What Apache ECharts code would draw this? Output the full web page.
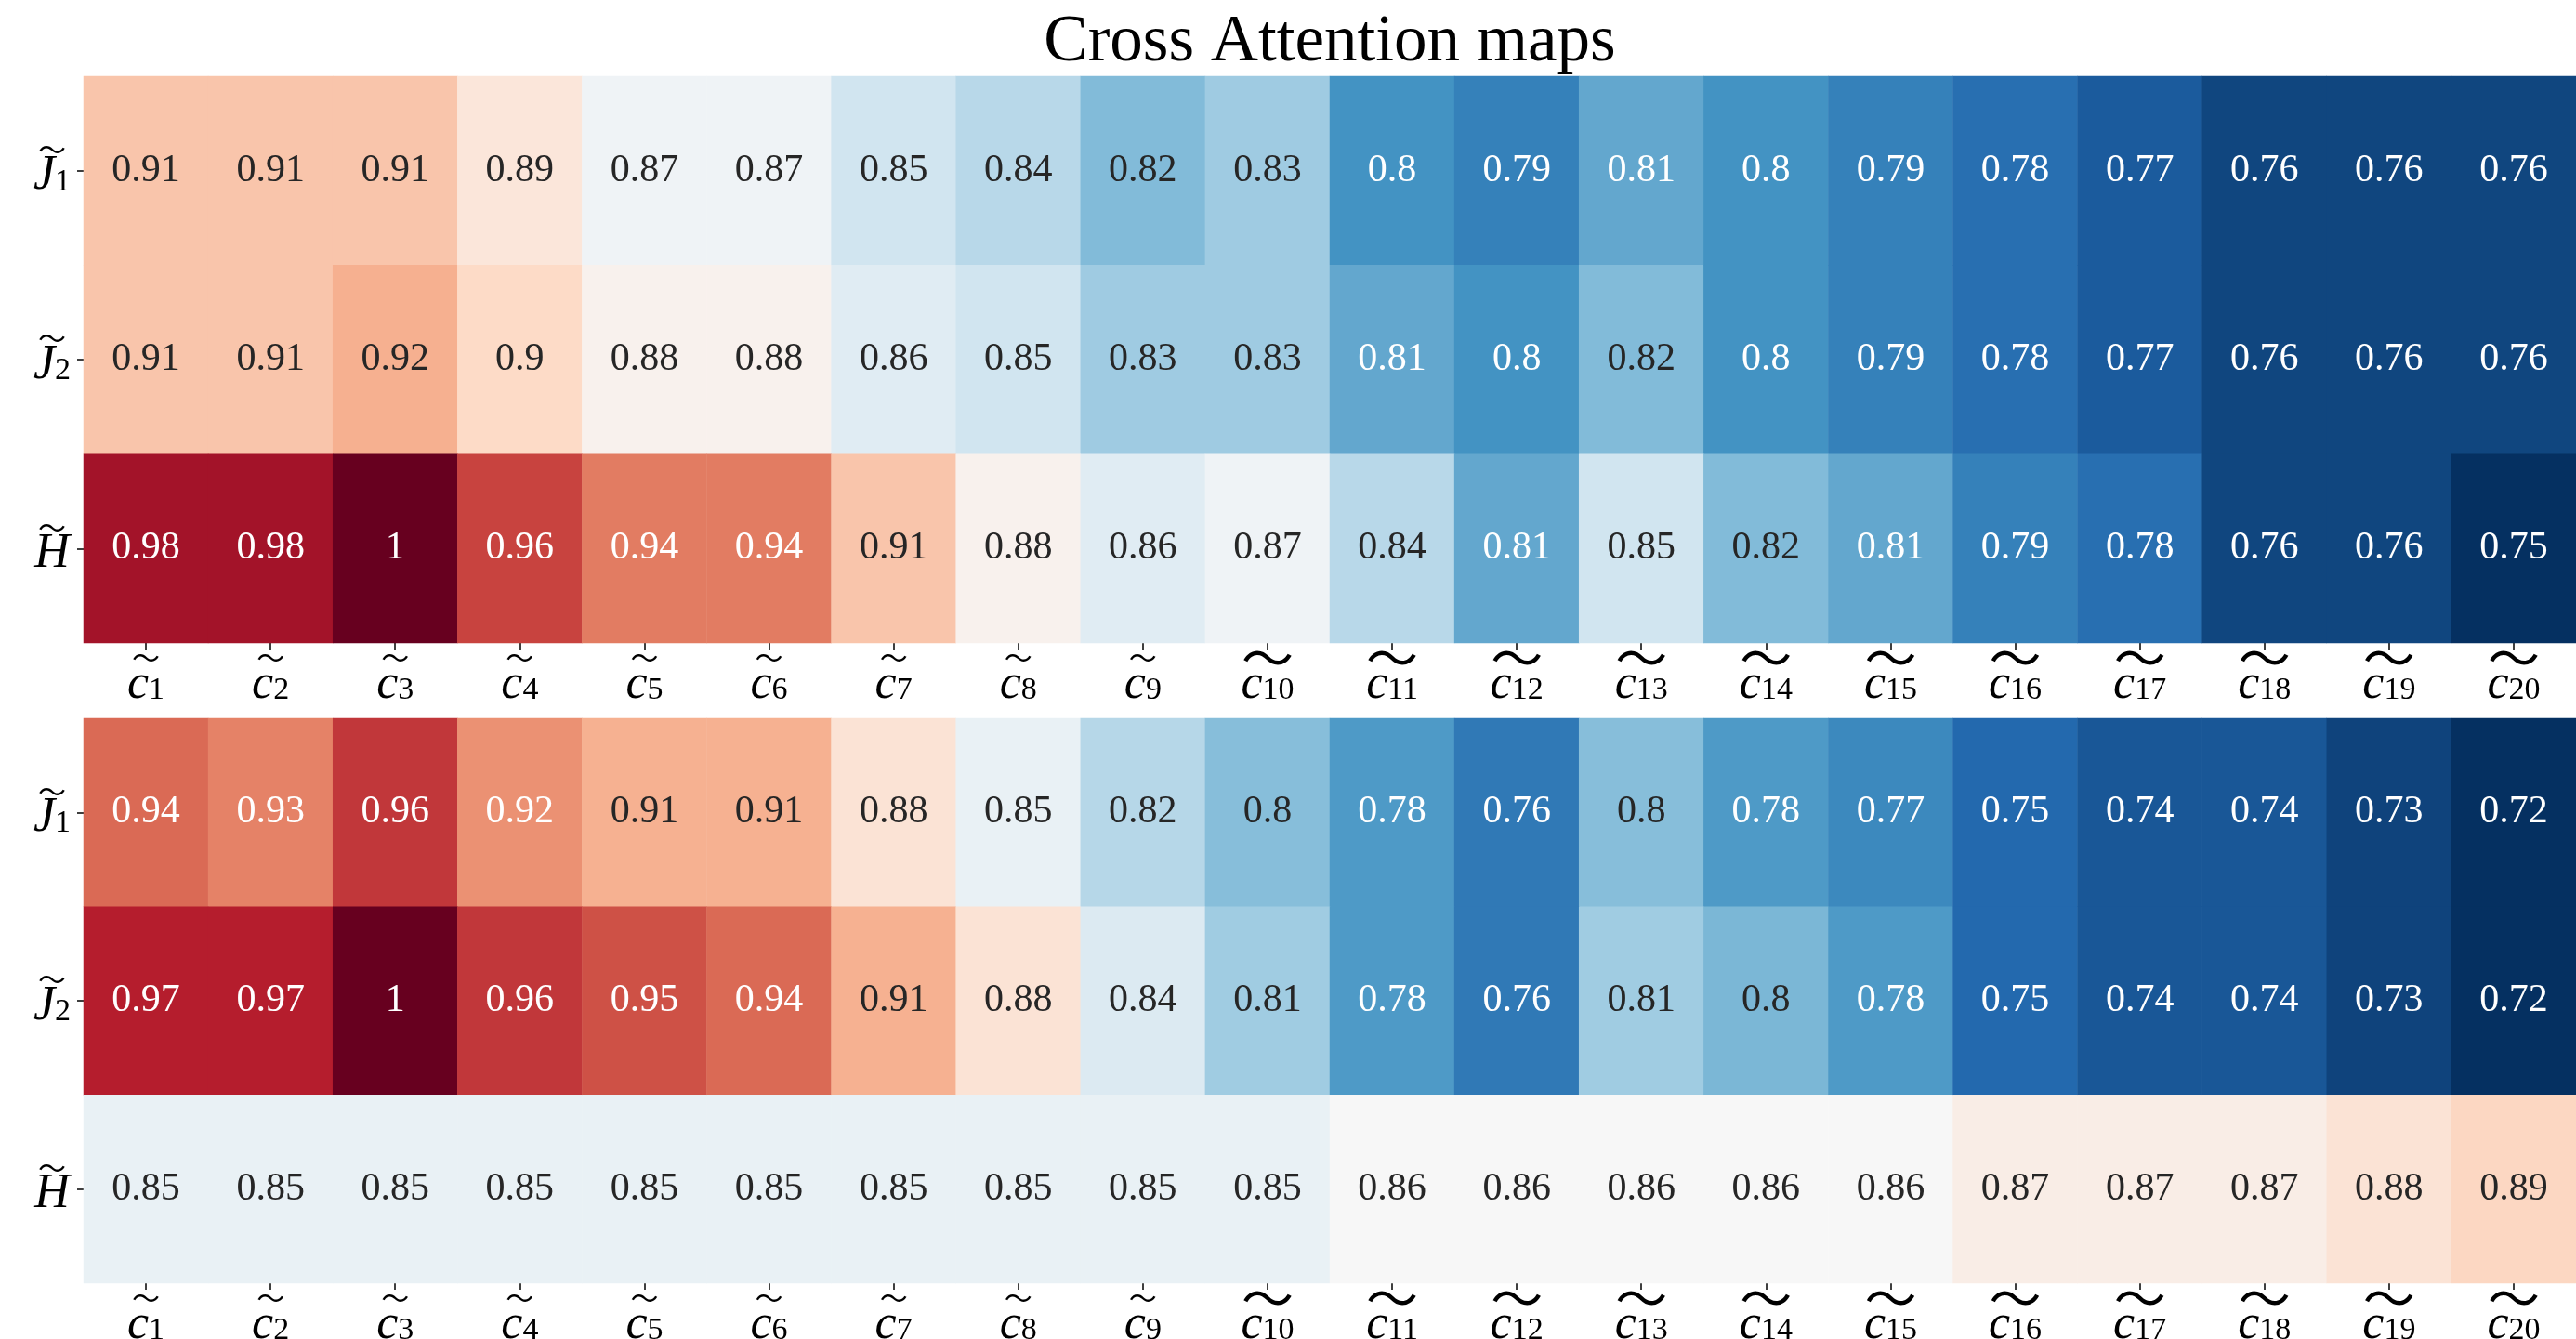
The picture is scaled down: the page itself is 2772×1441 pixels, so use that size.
<!DOCTYPE html>
<html>
<head>
<meta charset="utf-8">
<title>Cross Attention maps</title>
<script src="https://cdn.jsdelivr.net/npm/echarts@6/dist/echarts.min.js"></script>
<style>
  html, body {margin: 0; padding: 0; background: #fff;}
  #main {width: 2772px; height: 1441px;}
</style>
</head>
<body>
<div id="main"></div>
<script>
// column labels c~1 .. c~20
const columns = ['1', '2', '3', '4', '5', '6', '7', '8', '9', '10',
  '11', '12', '13', '14', '15', '16', '17', '18', '19', '20'];
const rows = ['J1', 'J2', 'H'];

// upper map
const topJ1 = [0.91, 0.91, 0.91, 0.89, 0.87, 0.87, 0.85, 0.84, 0.82, 0.83, 0.8, 0.79, 0.81, 0.8, 0.79, 0.78, 0.77, 0.76, 0.76, 0.76];
const topJ2 = [0.91, 0.91, 0.92, 0.9, 0.88, 0.88, 0.86, 0.85, 0.83, 0.83, 0.81, 0.8, 0.82, 0.8, 0.79, 0.78, 0.77, 0.76, 0.76, 0.76];
const topH = [0.98, 0.98, 1, 0.96, 0.94, 0.94, 0.91, 0.88, 0.86, 0.87, 0.84, 0.81, 0.85, 0.82, 0.81, 0.79, 0.78, 0.76, 0.76, 0.75];

// lower map
const bottomJ1 = [0.94, 0.93, 0.96, 0.924, 0.91, 0.91, 0.88, 0.85, 0.82, 0.8, 0.78, 0.76, 0.8, 0.78, 0.77, 0.75, 0.74, 0.74, 0.73, 0.72];
const bottomJ2 = [0.97, 0.97, 1, 0.96, 0.95, 0.94, 0.91, 0.88, 0.84, 0.81, 0.78, 0.76, 0.81, 0.796, 0.78, 0.75, 0.74, 0.74, 0.73, 0.72];
const bottomH = [0.85, 0.85, 0.85, 0.85, 0.85, 0.85, 0.85, 0.85, 0.85, 0.85, 0.86, 0.86, 0.86, 0.86, 0.86, 0.87, 0.87, 0.87, 0.88, 0.89];

const topValues = [topJ1, topJ2, topH];
const bottomValues = [bottomJ1, bottomJ2, bottomH];

// RdBu_r
const rdbu = ['#053061', '#2166ac', '#4393c3', '#92c5de', '#d1e5f0', '#f7f7f7',
  '#fddbc7', '#f4a582', '#d6604d', '#b2182b', '#67001f'];

const serif = 'Liberation Serif';

function hexToRgb(h) {
  return [1, 3, 5].map(i => parseInt(h.slice(i, i + 2), 16));
}
function cmap(t) {
  t = Math.min(1, Math.max(0, t));
  const p = t * (rdbu.length - 1);
  const i = Math.min(Math.floor(p), rdbu.length - 2);
  const f = p - i;
  const a = hexToRgb(rdbu[i]), b = hexToRgb(rdbu[i + 1]);
  return a.map((x, k) => x + (b[k] - x) * f);
}
function luminance(rgb) {
  const c = rgb.map(v => {
    v /= 255;
    return v <= 0.03928 ? v / 12.92 : Math.pow((v + 0.055) / 1.055, 2.4);
  });
  return 0.2126 * c[0] + 0.7152 * c[1] + 0.0722 * c[2];
}
function fmt(v) {
  return String(Number(v.toFixed(2)));
}

function buildData(values) {
  const flat = values.flat();
  const min = Math.min(...flat), max = Math.max(...flat);
  const data = [];
  values.forEach((row, r) => {
    row.forEach((v, c) => {
      const lum = luminance(cmap((v - min) / (max - min)));
      data.push({
        value: [c, r, v],
        label: {color: lum > 0.408 ? '#262626' : '#ffffff'}
      });
    });
  });
  return {data, min, max};
}

const topMap = buildData(topValues);
const bottomMap = buildData(bottomValues);

const labelRich = {
  t1: {fontFamily: 'Noto Sans CJK SC', fontSize: 30, lineHeight: 12, color: '#000'},
  t2: {fontFamily: 'Noto Sans CJK SC', fontSize: 56, lineHeight: 12, color: '#000'},
  v: {fontFamily: serif, fontStyle: 'italic', fontSize: 52, lineHeight: 46, color: '#000'},
  s: {fontFamily: serif, fontSize: 34, lineHeight: 30, verticalAlign: 'bottom', color: '#000'}
};

function xAxisFor(gridIndex) {
  return {
    type: 'category',
    gridIndex,
    data: columns,
    axisLine: {show: false},
    axisTick: {show: true, alignWithLabel: true, length: 7, lineStyle: {color: '#000', width: 1.5}},
    axisLabel: {
      interval: 0,
      margin: 10,
      align: 'center',
      formatter: v => '{' + (v.length > 1 ? 't2' : 't1') + '|〜}\n{v|c}{s|' + v + '}',
      rich: labelRich
    },
    splitLine: {show: false}
  };
}

function yAxisFor(gridIndex) {
  return {
    type: 'category',
    gridIndex,
    data: rows,
    inverse: true,
    axisLine: {show: false},
    axisTick: {show: true, alignWithLabel: true, length: 7, lineStyle: {color: '#000', width: 1.5}},
    axisLabel: {
      margin: 34,
      align: 'center',
      formatter: v => '{t1|〜}\n{v|' + v[0] + '}' + (v.length > 1 ? '{s|' + v.slice(1) + '}' : ''),
      rich: labelRich
    },
    splitLine: {show: false}
  };
}

function heatSeries(idx, map) {
  return {
    type: 'heatmap',
    xAxisIndex: idx,
    yAxisIndex: idx,
    data: map.data,
    label: {
      show: true,
      fontFamily: serif,
      fontSize: 42,
      formatter: p => fmt(p.value[2])
    },
    itemStyle: {borderWidth: 0},
    emphasis: {disabled: true}
  };
}

const chart = echarts.init(document.getElementById('main'));
chart.setOption({
  backgroundColor: '#ffffff',
  animation: false,
  graphic: [{
    type: 'text',
    x: 1431,
    y: 11,
    style: {
      text: 'Cross Attention maps',
      font: '71px "Liberation Serif"',
      fill: '#000',
      align: 'center',
      verticalAlign: 'top'
    }
  }],
  grid: [
    {left: 90, right: 0, top: 82, height: 610, outerBoundsMode: 'none'},
    {left: 90, right: 0, top: 773, height: 608, outerBoundsMode: 'none'}
  ],
  xAxis: [xAxisFor(0), xAxisFor(1)],
  yAxis: [yAxisFor(0), yAxisFor(1)],
  visualMap: [
    {show: false, type: 'continuous', seriesIndex: 0, dimension: 2,
      min: topMap.min, max: topMap.max, inRange: {color: rdbu}},
    {show: false, type: 'continuous', seriesIndex: 1, dimension: 2,
      min: bottomMap.min, max: bottomMap.max, inRange: {color: rdbu}}
  ],
  series: [heatSeries(0, topMap), heatSeries(1, bottomMap)]
});
</script>
</body>
</html>
